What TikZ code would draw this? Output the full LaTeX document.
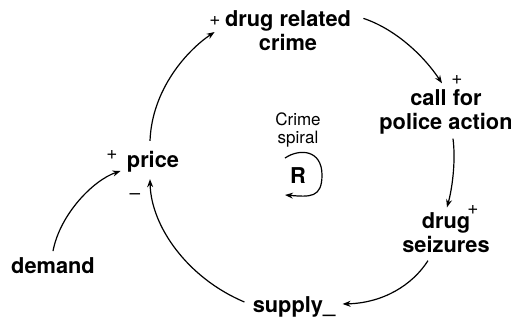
\documentclass[tikz,border=0pt]{standalone}
\usepackage{fontspec}
\setmainfont{TeX Gyre Heros}
\usetikzlibrary{arrows.meta,calc}
\begin{document}
\begin{tikzpicture}[x=0.5pt,y=-0.5pt,
  var/.style={font=\fontsize{10.9}{12.2}\selectfont\bfseries, inner sep=0pt, align=center},
  pol/.style={font=\fontsize{9.5}{9.5}\selectfont, inner sep=0pt},
  loopname/.style={font=\fontsize{8.5}{8.6}\selectfont, inner sep=0pt, align=center},
  link/.style={line width=0.6pt, -{Stealth[length=4pt,width=3pt]}},
  ]
\useasboundingbox (0,0) rectangle (511,322);

% variables of the loop
\node[var] (crime)  at (288,30.5)  {drug related\\crime};
\node[var] (police) at (446,111.7) {call for\\police action};
\node[var] (seize)  at (446,232.5) {drug\\seizures};
\node[var] (supply) at (294,307)   {supply\_};
\node[var] (price)  at (153,161.7) {price};
\node[var] (demand) at (53,266)    {demand};

% loop identifier
\node[loopname] (spiral) at (298,130) {Crime\\spiral};
\node[var] (R) at (298,176) {R};

% link polarities
\node[pol] (pcrime)  at (215,21)  {+};
\node[pol] (ppolice) at (457,80)  {+};
\node[pol] (pseize)  at (473,210) {+};
\node[pol] (pprice)  at (112,155) {+};
\node[pol] (mprice)  at (135,197) {–};

% causal links
\draw[link] ([shift={(-3,-10)}]price.north) .. controls +(2,-52) and +(-27,18) .. ([shift={(-10,1.5)}]crime.west);
\draw[link] ([shift={(12,8.5)}]crime.north east) .. controls +(30,10) and +(-20,-30) .. ([shift={(-4,-5.5)}]police.north);
\draw[link] ([shift={(7,4)}]police.south) .. controls +(3,23) and +(5,-18) .. ([shift={(1,-4.5)}]seize.north);
\draw[link] ([shift={(-18,7.5)}]seize.south) .. controls +(-16,25) and +(40,-1) .. ([shift={(7,-3)}]supply.east);
\draw[link] ([shift={(-8,-5)}]supply.west) .. controls +(-57,-24) and +(1,47) .. ([shift={(-3,6.6)}]price.south);
\draw[link] ([shift={(0,-6.5)}]demand.north) .. controls +(7,-37) and +(-27,9) .. ([shift={(-6,9.3)}]price.west);

% loop arrow around R
\draw[link] ([shift={(-13,-18)}]R.center) .. controls +(15,-10) and +(0,-25) .. ([shift={(24,-1)}]R.center)
  .. controls +(0,23) and +(25,2) .. ([shift={(-13,19)}]R.center);
\end{tikzpicture}
\end{document}
